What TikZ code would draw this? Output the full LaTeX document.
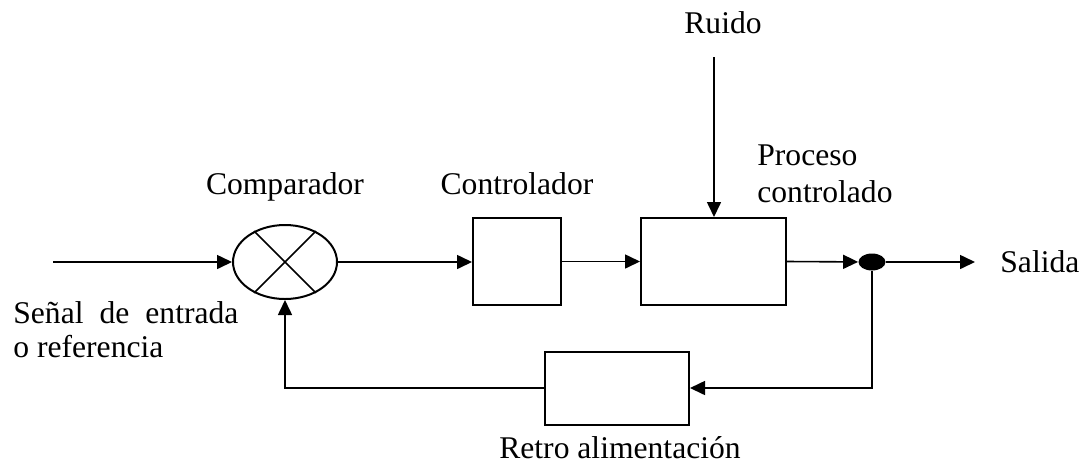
\documentclass[tikz,border=0pt]{standalone}
\usepackage{fontspec}
\setmainfont{Liberation Serif}
\usetikzlibrary{arrows.meta,positioning,shapes.geometric}
\tikzset{
  blk/.style={rectangle,draw,line width=1pt,inner sep=0pt},
  lbl/.style={font=\fontsize{15.8}{17}\selectfont,inner sep=0pt,anchor=base},
  arr/.style={-{Triangle[length=7.5pt,width=7pt]},line width=0.8pt},
  lin/.style={line width=0.8pt},
}
\begin{document}
\begin{tikzpicture}[x=0.5pt,y=-0.5pt]
  \useasboundingbox (0,0) rectangle (1083,468);
  % bloques
  \node[ellipse,draw,line width=1pt,minimum width=52pt,minimum height=37pt,inner sep=0pt] (comp) at (285,262) {};
  \node[blk,minimum width=44pt,minimum height=43.5pt] (ctrl) at (517,261.5) {};
  \node[blk,minimum width=72.5pt,minimum height=43.5pt] (proc) at (713.5,261.5) {};
  \node[blk,minimum width=72pt,minimum height=36.5pt] (fb) at (617,388) {};
  \node[ellipse,fill,minimum width=13.5pt,minimum height=8.5pt,inner sep=0pt] (dot) at (872,262) {};
  \draw[lin] (comp.45) -- (comp.225) (comp.135) -- (comp.315);
  % textos
  \node[lbl] (tcomp) at (285,194) {Comparador};
  \node[lbl] (tctrl) at (517,194) {Controlador};
  \node[lbl,anchor=base west,align=left] (tproc) at (757,202) {Proceso\\[1.5pt]controlado};
  \node[lbl] (ruido) at (723,33) {Ruido};
  \node[lbl,anchor=base west] (salida) at (1000,272) {Salida};
  \node[lbl] (tfb) at (620,458) {Retro alimentación};
  \node[lbl,anchor=base west,align=left] (tin) at (13,357)
    {\makebox[112.5pt][s]{Señal de entrada}\\o referencia};
  \coordinate (in) at (53,262);
  \coordinate (rtop) at (714,57);
  \coordinate (out) at (975,262);
  % conexiones
  \draw[arr] (in) -- (comp);
  \draw[arr] (comp) -- (comp -| ctrl.west);
  \draw[arr] (ctrl) -- (proc);
  \draw[arr] (rtop) -- (rtop |- proc.north);
  \draw[arr] (proc.east) -- (dot);
  \draw[arr] (dot) -- (out);
  \draw[arr] (dot) |- (fb);
  \draw[arr] (fb) -| (comp);
\end{tikzpicture}
\end{document}
